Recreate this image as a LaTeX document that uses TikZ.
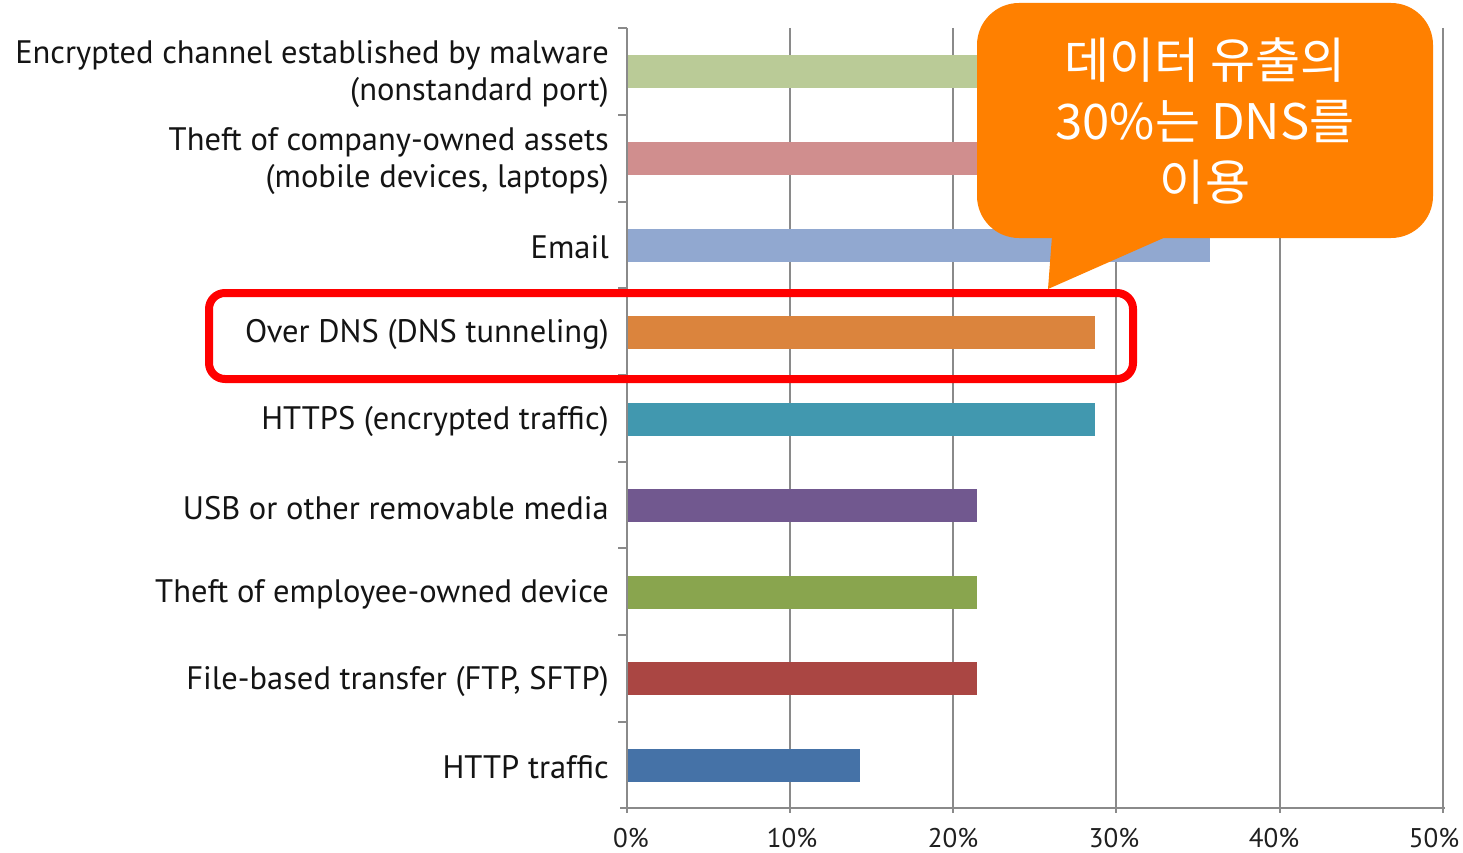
\documentclass[tikz,border=0pt]{standalone}
\usepackage{fontspec}
\setmainfont{PT Sans}
\newfontfamily\cjk{Noto Sans CJK KR}
\definecolor{gridc}{HTML}{8A8A8A}
\definecolor{cA}{HTML}{BACB97}
\definecolor{cB}{HTML}{D08E8E}
\definecolor{cC}{HTML}{91A8D0}
\definecolor{cD}{HTML}{DB843D}
\definecolor{cE}{HTML}{4198AF}
\definecolor{cF}{HTML}{71588F}
\definecolor{cG}{HTML}{89A54E}
\definecolor{cH}{HTML}{AA4643}
\definecolor{cI}{HTML}{4572A7}
\definecolor{callc}{HTML}{FF8000}
\definecolor{hilite}{HTML}{FF0000}
\begin{document}
\begin{tikzpicture}[x=1pt,y=-1pt,
  gridline/.style={draw=gridc,line width=1.6pt},
  bar/.style={inner sep=0pt,minimum height=33pt,anchor=west},
  catlabel/.style={anchor=east,align=right,inner sep=0pt,yshift=-2.5pt,font=\fontsize{32.5}{37}\selectfont,text=black!92},
  ticklabel/.style={anchor=center,inner sep=0pt,font=\fontsize{27}{30}\selectfont,text=black!88},
  calltext/.style={align=center,text=white,inner sep=0pt,font=\cjk\fontsize{49}{61}\selectfont},
  hibox/.style={draw=hilite,line width=8pt,rounded corners=16pt}]
\path[fill=white,use as bounding box] (0,0) rectangle (1463,853);
% grid
\foreach \gx in {790,953,1116,1280,1443}{
  \draw[gridline] (\gx,28) -- (\gx,813);
}
% axes
\draw[gridline] (627,28) -- (627,813);
\draw[gridline] (620,808) -- (1445,808);
\foreach \ty in {28,115,202,288,375,462,548,635,722}{
  \draw[gridline] (618,\ty) -- (627,\ty);
}
% bars
\node[bar,fill=cA,minimum width=480pt] (bA) at (628,71.5) {};
\node[bar,fill=cB,minimum width=480pt] (bB) at (628,159) {};
\node[bar,fill=cC,minimum width=582pt] (bC) at (628,245) {};
\node[bar,fill=cD,minimum width=467pt] (bD) at (628,332) {};
\node[bar,fill=cE,minimum width=467pt] (bE) at (628,419.5) {};
\node[bar,fill=cF,minimum width=349pt] (bF) at (628,505.5) {};
\node[bar,fill=cG,minimum width=349pt] (bG) at (628,592) {};
\node[bar,fill=cH,minimum width=349pt] (bH) at (628,678.5) {};
\node[bar,fill=cI,minimum width=232pt] (bI) at (628,765) {};
% category labels
\node[catlabel] (lA) at (609,72) {Encrypted channel established by malware\\(nonstandard port)};
\node[catlabel] (lB) at (609,159) {Theft of company-owned assets\\(mobile devices, laptops)};
\node[catlabel] (lC) at (609,245) {Email};
\node[catlabel] (lD) at (609,332) {Over DNS (DNS tunneling)};
\node[catlabel] (lE) at (609,419) {HTTPS (encrypted traffic)};
\node[catlabel] (lF) at (609,506) {USB or other removable media};
\node[catlabel] (lG) at (609,592) {Theft of employee-owned device};
\node[catlabel] (lH) at (609,679) {File-based transfer (FTP, SFTP)};
\node[catlabel] (lI) at (609,765) {HTTP traffic};
% tick labels
\node[ticklabel] (t0) at (631,838) {0\%};
\node[ticklabel] (t1) at (792,838) {10\%};
\node[ticklabel] (t2) at (953,838) {20\%};
\node[ticklabel] (t3) at (1114,838) {30\%};
\node[ticklabel] (t4) at (1274,838) {40\%};
\node[ticklabel] (t5) at (1434,838) {50\%};
% highlight box
\draw[hibox] (209,293) rectangle (1133,379);
\coordinate (hb) at (1048,289);
% callout
\fill[callc,rounded corners=42pt] (977,3) rectangle (1433,238);
\fill[callc] (1052,236) -- (1168,236) -- (hb) -- cycle;
\node[calltext] (ct) at (1205,121) {데이터 유출의\\30\%는 DNS를\\이용};
\end{tikzpicture}
\end{document}
